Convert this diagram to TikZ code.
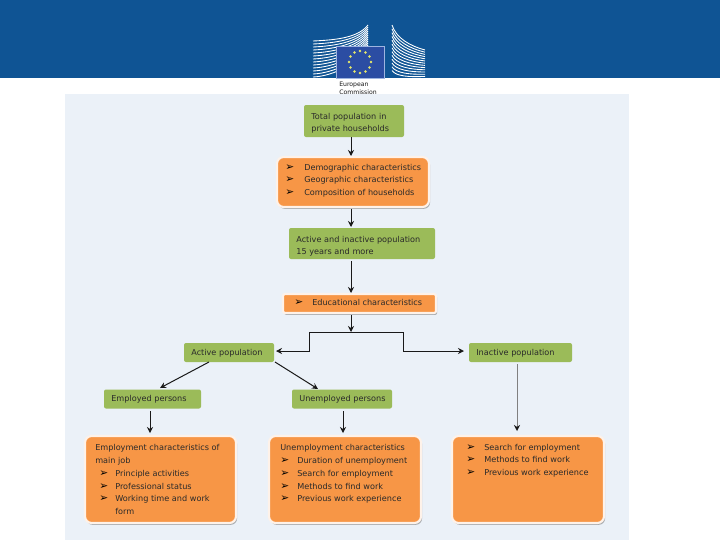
\documentclass[tikz,border=0pt]{standalone}
\usepackage{fontspec}
\setmainfont{DejaVu Sans}
\usetikzlibrary{shadows,arrows.meta}
\definecolor{hdr}{HTML}{0F5494}
\definecolor{pane}{HTML}{EBF1F8}
\definecolor{grn}{HTML}{9BBB59}
\definecolor{org}{HTML}{F79646}
\definecolor{flagblue}{HTML}{2B4DA3}
\definecolor{flagedge}{HTML}{9DB4E0}
\definecolor{inkt}{HTML}{2A2A2A}
\definecolor{stary}{HTML}{E6E86A}
\newcommand{\bul}[1]{\makebox[\dimexpr#1pt*3/4\relax][l]{\fontsize{8}{8}\selectfont\color{black}➢}}
\tikzset{
  x=0.75pt,y=-0.75pt,
  sz/.style 2 args={minimum width=#1*0.75pt,minimum height=#2*0.75pt},
  greenbox/.style 2 args={fill=grn,rounded corners=1.5pt,inner ysep=0pt,inner xsep=5.5pt,align=left,text=inkt,
    font=\fontsize{6.1}{9.4}\selectfont,sz={#1}{#2},text width=#1*0.75pt-11pt},
  orangebox/.style={fill=org,draw=white!88!org,line width=1.6pt,rounded corners=5pt,inner sep=0pt,
    drop shadow={shadow xshift=0.9pt,shadow yshift=-1.4pt,fill=black!50,opacity=0.6}},
  orangeflat/.style={orangebox,rounded corners=1.5pt},
  blocktext/.style={anchor=north west,inner sep=0pt,align=left,text=inkt,
    font=\fontsize{6.1}{9.4}\selectfont},
  widelines/.style={font=\fontsize{6.1}{9.65}\selectfont},
  arr/.style={-{Stealth[length=4.5pt,width=4.5pt]},line width=0.75pt,black!90},
  plain/.style={line width=0.75pt,black!90},
  thinarr/.style={-{Stealth[length=4.5pt,width=4.5pt,black!90]},line width=0.4pt,black!50},
}
\begin{document}
\begin{tikzpicture}
\useasboundingbox (0,0) rectangle (720,540);
\fill[white] (0,0) rectangle (720,540);
\fill[hdr] (0,0) rectangle (720,78);
% logo: left wing
\foreach \i in {0,...,12}{
  \draw[white,line width=0.65pt] (313,{41+3*\i}) .. controls (335,{40+3*\i}) and (358,{38+2*\i}) .. (368,{25+2*\i});
}
% logo: right wing
\foreach \i in {0,...,12}{
  \draw[white,line width=0.65pt] (392,{25+3.8*\i}) .. controls (396,{38+3.2*\i}) and (410,{46+2.6*\i}) .. (425,{50+2.2*\i});
}
\fill[flagblue,draw=flagedge,line width=0.5pt] (336.5,46) rectangle (384.5,78);
\foreach \a in {0,30,...,330}{
  \fill[stary] ({360+11*cos(\a)},{62+11*sin(\a)}) circle (1.4);
}
\node[anchor=north west,inner sep=0pt,align=left,text=black!90,font=\fontsize{4.6}{6}\selectfont] (ec) at (339,81.5) {European\\Commission};
\fill[pane] (65,94) rectangle (629,540);
% boxes
\node[greenbox={100}{32},text depth=7.5pt] (total) at (354,121) {Total population in\\private households};
\node[orangebox,sz={152}{50}] (demo) at (353,182) {};
\node[blocktext] (demot) at (285,164) {\bul{19}Demographic characteristics\\\bul{19}Geographic characteristics\\\bul{19}Composition of households};
\node[greenbox={146}{31},text depth=6.7pt] (act) at (362,243.5) {Active and inactive population\\15 years and more};
\node[orangeflat,sz={153}{19}] (edu) at (359.5,303.5) {};
\node[blocktext] (edut) at (294,299) {\bul{18}Educational characteristics};
\node[greenbox={90}{19},text depth=-0.5pt] (ap) at (229,352.5) {Active population};
\node[greenbox={103}{19},text depth=-0.5pt] (ip) at (520.5,352.5) {Inactive population};
\node[greenbox={97}{19}] (ep) at (152.5,399) {Employed persons};
\node[greenbox={100}{19}] (up) at (342,399) {\mbox{Unemployed persons}};
\node[orangebox,sz={151}{87}] (b1) at (160.5,479.5) {};
\node[orangebox,sz={152}{87}] (b2) at (345,479.5) {};
\node[orangebox,sz={152}{87}] (b3) at (528,479.5) {};
\node[blocktext,widelines] (b1t) at (95,444) {Employment characteristics of\\main job\\\hspace*{3pt}\bul{16}Principle activities\\\hspace*{3pt}\bul{16}Professional status\\\hspace*{3pt}\bul{16}Working time and work\\\hspace*{3pt}\hspace*{12pt}form};
\node[blocktext,widelines] (b2t) at (280,444) {Unemployment characteristics\\\bul{17}Duration of unemployment\\\bul{17}Search for employment\\\bul{17}Methods to find work\\\bul{17}Previous work experience};
\node[blocktext] (b3t) at (466,444) {\bul{18}Search for employment\\\bul{18}Methods to find work\\\bul{18}Previous work experience};
% connector ends
\coordinate (total0) at (351,137);
\coordinate (demo1) at (351,156);
\coordinate (demo0) at (351,209);
\coordinate (act1) at (351,227);
\coordinate (act0) at (351,261);
\coordinate (edu1) at (351,293);
\coordinate (edu0) at (351,315);
\coordinate (jn) at (351,332);
\coordinate (jl) at (309,332);
\coordinate (jr) at (403,332);
\coordinate (apin) at (276,351);
\coordinate (ipin) at (464,351);
\coordinate (apa) at (209,362);
\coordinate (apb) at (275,362);
\coordinate (epin) at (160,388);
\coordinate (upin) at (318,389);
\coordinate (ep0) at (150,411);
\coordinate (b1in) at (150,433);
\coordinate (up0) at (343,411);
\coordinate (b2in) at (343,433);
\coordinate (ip0) at (517,364);
\coordinate (b3in) at (517,431);
% connectors
\draw[arr] (total0) -- (demo1);
\draw[arr] (demo0) -- (act1);
\draw[arr] (act0) -- (edu1);
\draw[arr] (edu0) -- (jn);
\draw[plain] (jl) -- (jr);
\draw[arr] (jl) |- (apin);
\draw[arr] (jr) |- (ipin);
\draw[arr] (apa) -- (epin);
\draw[arr] (apb) -- (upin);
\draw[arr] (ep0) -- (b1in);
\draw[arr] (up0) -- (b2in);
\draw[thinarr] (ip0) -- (b3in);
\end{tikzpicture}
\end{document}
